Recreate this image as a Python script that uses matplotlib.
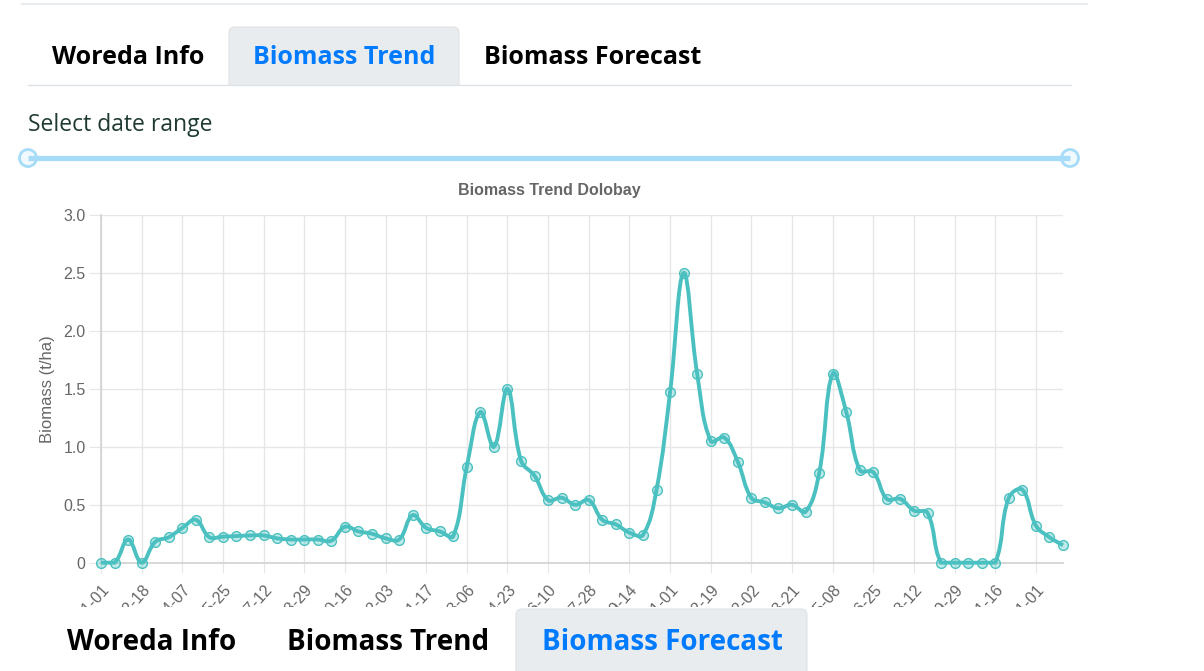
import numpy as np
import matplotlib

matplotlib.use('Agg')

import matplotlib.pyplot as plt
from matplotlib.path import Path
from matplotlib.patches import PathPatch, FancyBboxPatch, Rectangle, Circle

# 16-day composite dates
dates_2018 = ['01-01', '01-17', '02-02', '02-18', '03-06', '03-22', '04-07', '04-23',
              '05-09', '05-25', '06-10', '06-26', '07-12', '07-28', '08-13', '08-29',
              '09-14', '09-30', '10-16', '11-01', '11-17', '12-03', '12-19']
dates_2019 = dates_2018
dates_2020 = ['01-01', '01-17', '02-02', '02-18', '03-05', '03-21', '04-06', '04-22',
              '05-08', '05-24', '06-09', '06-25', '07-11', '07-27', '08-12', '08-28',
              '09-13', '09-29', '10-15', '10-31', '11-16', '12-02', '12-18']
dates_2021 = ['01-01', '01-17', '02-02']
dates = (['2018-' + d for d in dates_2018] + ['2019-' + d for d in dates_2019] +
         ['2020-' + d for d in dates_2020] + ['2021-' + d for d in dates_2021])

biomass = [0, 0, 0.20, 0, 0.18, 0.22, 0.30, 0.37, 0.22, 0.225,
           0.23, 0.235, 0.235, 0.21, 0.20, 0.20, 0.20, 0.19, 0.31, 0.27,
           0.25, 0.21, 0.20, 0.41, 0.30, 0.27, 0.23, 0.83, 1.30, 1.00,
           1.50, 0.88, 0.75, 0.54, 0.56, 0.50, 0.54, 0.37, 0.33, 0.26,
           0.24, 0.63, 1.47, 2.50, 1.63, 1.05, 1.08, 0.87, 0.56, 0.52,
           0.47, 0.50, 0.44, 0.77, 1.63, 1.30, 0.80, 0.78, 0.55, 0.55,
           0.45, 0.43, 0, 0, 0, 0, 0, 0.56, 0.63, 0.32,
           0.22, 0.15]

y_ticks = [0, 0.5, 1.0, 1.5, 2.0, 2.5, 3.0]
y_labels = ['0', '0.5', '1.0', '1.5', '2.0', '2.5', '3.0']

W, H = 1204, 671
TEAL = '#4bc0c0'
GREY = '#666666'
CHART_FONT = 'Liberation Sans'
TAB_FONT = 'Open Sans'


def spline_path(ax, xs, ys, tension=0.4):
    # chart.js style cubic spline, control points computed in pixel space
    pts = ax.transData.transform(np.column_stack([xs, ys]))
    bb = ax.bbox
    n = len(pts)
    prev_cp, next_cp = [], []
    for i in range(n):
        p0 = pts[max(i - 1, 0)]
        p1 = pts[i]
        p2 = pts[min(i + 1, n - 1)]
        d01 = np.hypot(*(p1 - p0))
        d12 = np.hypot(*(p2 - p1))
        tot = d01 + d12
        s01 = d01 / tot if tot else 0
        s12 = d12 / tot if tot else 0
        a = p1 - tension * s01 * (p2 - p0)
        b = p1 + tension * s12 * (p2 - p0)
        for c in (a, b):
            c[0] = min(max(c[0], bb.x0), bb.x1)
            c[1] = min(max(c[1], bb.y0), bb.y1)
        prev_cp.append(a)
        next_cp.append(b)
    verts = [pts[0]]
    codes = [Path.MOVETO]
    for i in range(n - 1):
        verts += [next_cp[i], prev_cp[i + 1], pts[i + 1]]
        codes += [Path.CURVE4] * 3
    verts = ax.transData.inverted().transform(np.array(verts))
    return Path(verts, codes)


fig = plt.figure(figsize=(W / 100, H / 100), dpi=100)
fig.patch.set_facecolor('white')

ax = fig.add_axes([101 / W, 1 - 562.7 / H, (1063 - 101) / W, 347.7 / H])
x = np.arange(len(biomass))
ax.set_xlim(0, len(biomass) - 1)
ax.set_ylim(0, 3)

ax.set_yticks(y_ticks)
ax.set_yticklabels(y_labels, fontsize=11.5, color=GREY, family=CHART_FONT)
ax.set_xticks(x[::3])
ax.set_xticklabels(dates[::3], rotation=48, ha='right', va='top',
                   rotation_mode='anchor', fontsize=11.5, color=GREY, family=CHART_FONT)
ax.tick_params(axis='y', length=9, color='#e6e6e6', pad=2)
ax.tick_params(axis='x', length=7, color='#e6e6e6', pad=7)
ax.grid(True, color='#e6e6e6', lw=1)
ax.set_axisbelow(True)
for s in ['top', 'right']:
    ax.spines[s].set_visible(False)
for s in ['left', 'bottom']:
    ax.spines[s].set_color('#d4d4d4')
    ax.spines[s].set_linewidth(1.3)

ax.set_ylabel('Biomass (t/ha)', fontsize=12, color=GREY, family=CHART_FONT, labelpad=6)

path = spline_path(ax, x, biomass)
ax.add_patch(PathPatch(path, fc='none', ec=TEAL, lw=2.8, clip_on=False, zorder=3))
ax.plot(x, biomass, 'o', ms=7, mfc=(75 / 255, 192 / 255, 192 / 255, 0.35),
        mec=TEAL, mew=1, clip_on=False, zorder=4)

fig.text(549 / W, 1 - 190 / H, 'Biomass Trend Dolobay', ha='center', va='center',
         fontsize=11.5, fontweight='bold', color=GREY, family=CHART_FONT)

# page chrome drawn in pixel coordinates
ui = fig.add_axes([0, 0, 1, 1], zorder=10)
ui.set_xlim(0, W)
ui.set_ylim(H, 0)
ui.axis('off')
ui.patch.set_alpha(0)

ui.plot([22, 1087], [4, 4], color='#e9ecef', lw=1.5)
ui.add_patch(FancyBboxPatch((229, 27), 230, 70, boxstyle='round,pad=0,rounding_size=6',
                            fc='#e9ecef', ec='#dee2e6', lw=0.8))
ui.add_patch(Rectangle((200, 85), 300, 20, fc='white', ec='none'))
ui.plot([28, 1071], [84.5, 84.5], color='#dee2e6', lw=1)
ui.text(128.5, 58, 'Woreda Info', ha='center', va='center', fontsize=18, fontweight='bold',
        color='black', family=TAB_FONT)
ui.text(344, 58, 'Biomass Trend', ha='center', va='center', fontsize=18, fontweight='bold',
        color='#007bff', family=TAB_FONT)
ui.text(593, 58, 'Biomass Forecast', ha='center', va='center', fontsize=18, fontweight='bold',
        color='black', family=TAB_FONT)

ui.text(28, 125, 'Select date range', ha='left', va='center', fontsize=16.5,
        color='#1e3a33', family=TAB_FONT)
ui.plot([28, 1070], [158, 158], color='#a6dcf8', lw=3.8, solid_capstyle='butt')
for hx in [28, 1070]:
    ui.add_patch(Circle((hx, 158), 8.5, fc='#f0f9fe', ec='#a6dcf8', lw=2))

# tab bar overlapping the bottom of the chart
ui.add_patch(Rectangle((0, 607), W, H - 607, fc='white', ec='none'))
ui.add_patch(FancyBboxPatch((516, 609), 291, 80, boxstyle='round,pad=0,rounding_size=6',
                            fc='#e9ecef', ec='#dee2e6', lw=0.8))
ui.text(152, 643, 'Woreda Info', ha='center', va='center', fontsize=20, fontweight='bold',
        color='black', family=TAB_FONT)
ui.text(388.5, 643, 'Biomass Trend', ha='center', va='center', fontsize=20,
        fontweight='bold', color='black', family=TAB_FONT)
ui.text(662, 643, 'Biomass Forecast', ha='center', va='center', fontsize=20,
        fontweight='bold', color='#007bff', family=TAB_FONT)

plt.savefig('out.png', dpi=100)
